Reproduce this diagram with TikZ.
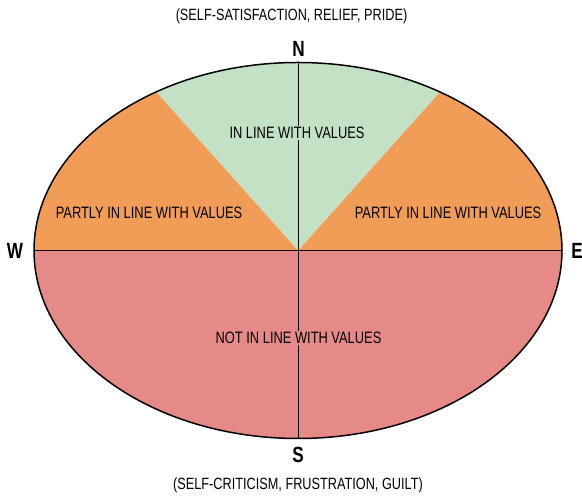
\documentclass[tikz,border=0pt]{standalone}
\usepackage{fontspec}
\setmainfont[FakeStretch=0.78]{Liberation Sans}
\usetikzlibrary{calc}
\definecolor{zgreen}{RGB}{195,226,197}
\definecolor{zorange}{RGB}{242,157,87}
\definecolor{zred}{RGB}{229,138,135}
\begin{document}
\begin{tikzpicture}[x=1pt,y=1pt,
  zone/.style={font=\fontsize{16.5}{19}\selectfont, inner sep=1.5pt, text=black},
  dirlabel/.style={font=\fontsize{22}{24}\selectfont\bfseries, inner sep=0pt},
  note/.style={font=\fontsize{16.3}{19}\selectfont, inner sep=0pt, text=black},
  thinline/.style={draw=black, line width=0.9pt}]
\useasboundingbox (0,0) rectangle (582,497);
\coordinate (C) at (298,246.5);
\coordinate (top) at (298,434.5);
\coordinate (bot) at (298,58.5);
\coordinate (lft) at (34,246.5);
\coordinate (rgt) at (562,246.5);
% red lower half
\fill[zred] (lft) arc[start angle=180, end angle=360, x radius=264, y radius=188] -- cycle;
% orange right
\fill[zorange] (C) -- (rgt) arc[start angle=0, end angle=57.5, x radius=264, y radius=188] -- cycle;
% green
\fill[zgreen] (C) -- ($(C)+(57.5:264 and 188)$) arc[start angle=57.5, end angle=122.5, x radius=264, y radius=188] -- cycle;
% orange left
\fill[zorange] (C) -- ($(C)+(122.5:264 and 188)$) arc[start angle=122.5, end angle=180, x radius=264, y radius=188] -- cycle;
% axes
\draw[thinline] (lft) -- (rgt);
\draw[thinline] (top) -- (bot);
% outline
\draw[line width=1.5pt] (C) ellipse[x radius=264, y radius=188];
% zone labels
\node[zone, fill=zgreen] (inline) at (297,364) {IN LINE WITH VALUES};
\node[zone] (partlyl) at (149,284) {PARTLY IN LINE WITH VALUES};
\node[zone] (partlyr) at (448,284) {PARTLY IN LINE WITH VALUES};
\node[zone, fill=zred] (notinline) at (298.5,159) {NOT IN LINE WITH VALUES};
% compass labels
\node[dirlabel] (N) at (298.5,448.5) {N};
\node[dirlabel] (S) at (298,42) {S};
\node[dirlabel] (W) at (15,246.5) {W};
\node[dirlabel] (E) at (577,246.5) {E};
% notes
\node[note] (topnote) at (291.5,481) {(SELF-SATISFACTION, RELIEF, PRIDE)};
\node[note] (botnote) at (298,12) {(SELF-CRITICISM, FRUSTRATION, GUILT)};
\end{tikzpicture}
\end{document}
